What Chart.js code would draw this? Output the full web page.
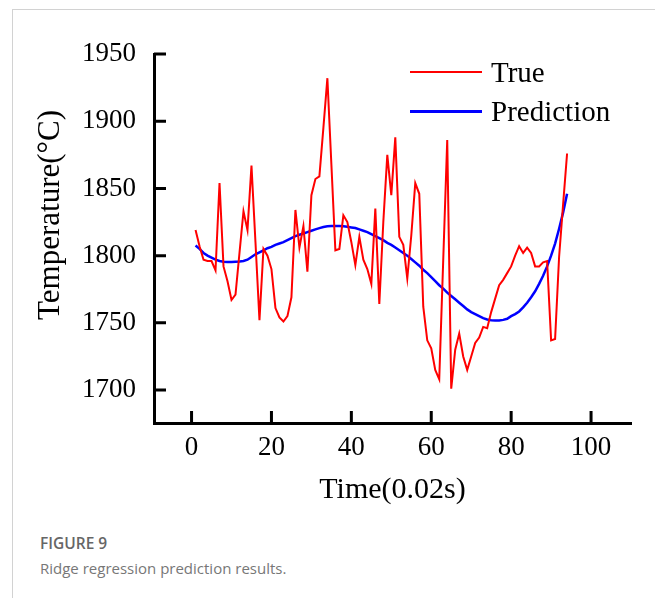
<!DOCTYPE html>
<html>
<head>
<meta charset="utf-8">
<script src="https://cdn.jsdelivr.net/npm/chart.js@4"></script>
<style>
  html, body { margin: 0; padding: 0; background: #fff; }
  body { width: 655px; height: 598px; position: relative; overflow: hidden; }
  #frame { position: absolute; left: 12px; top: 9px; width: 643px; height: 589px;
           border-top: 1px solid #d2d2d2; border-left: 1px solid #d2d2d2; box-sizing: border-box; }
  #chart { position: absolute; left: 0; top: 0; }
  .leg { position: absolute; left: 410px; height: 36px; display: flex; align-items: center;
         font-family: "Liberation Serif", serif; font-size: 29px; color: #000; }
  .leg span.ln { display: inline-block; width: 72px; margin-right: 9px; }
  #cap1 { position: absolute; left: 40px; top: 532px; font-family: "Open Sans", sans-serif;
          font-size: 15.5px; font-weight: 600; color: #666; line-height: 22px; }
  #cap2 { position: absolute; left: 40px; top: 557px; font-family: "Open Sans", sans-serif;
          font-size: 15px; color: #777; line-height: 22px; }
</style>
</head>
<body>
<div id="frame"></div>
<canvas id="chart" width="655" height="520"></canvas>
<div class="leg" style="top:54px"><span class="ln" style="height:2px;background:#ff0000"></span>True</div>
<div class="leg" style="top:93px"><span class="ln" style="height:3px;background:#0000ff"></span>Prediction</div>
<div id="cap1">FIGURE 9</div>
<div id="cap2">Ridge regression prediction results.</div>
<script>
// Daten
const timeSteps = [1, 2, 3, 4, 5, 6, 7, 8, 9, 10, 11, 12, 13, 14, 15, 16, 17, 18, 19, 20,
  21, 22, 23, 24, 25, 26, 27, 28, 29, 30, 31, 32, 33, 34, 35, 36, 37, 38, 39, 40,
  41, 42, 43, 44, 45, 46, 47, 48, 49, 50, 51, 52, 53, 54, 55, 56, 57, 58, 59, 60,
  61, 62, 63, 64, 65, 66, 67, 68, 69, 70, 71, 72, 73, 74, 75, 76, 77, 78, 79, 80,
  81, 82, 83, 84, 85, 86, 87, 88, 89, 90, 91, 92, 93, 94];

const trueTemp = [1819, 1807, 1797, 1796, 1796, 1789, 1854, 1792, 1781, 1767,
  1771, 1802, 1833, 1819, 1867, 1810, 1752, 1805, 1800, 1790,
  1761, 1754, 1751, 1755, 1769, 1834, 1806, 1822, 1788, 1845,
  1857, 1859, 1895, 1932, 1868, 1804, 1805, 1830, 1825, 1810,
  1793, 1814, 1797, 1790, 1779, 1835, 1764, 1825, 1875, 1845,
  1888, 1814, 1808, 1783, 1815, 1854, 1846, 1762, 1737, 1731,
  1715, 1708, 1797, 1886, 1701, 1730, 1742, 1725, 1715, 1725,
  1735, 1739, 1747, 1746, 1758, 1768, 1778, 1782, 1787, 1792,
  1800, 1807, 1802, 1806, 1802, 1792, 1792, 1795, 1796, 1737,
  1738, 1799, 1838, 1876];

const predTemp = [1807.5, 1805, 1802, 1800, 1798.5, 1797, 1796, 1795.5, 1795.3, 1795.3,
  1795.5, 1795.7, 1796, 1797, 1799, 1801, 1802.5, 1804, 1805.5, 1806.5,
  1808, 1809, 1810, 1811.5, 1813, 1814.5, 1815.5, 1816.5, 1817.5, 1818.5,
  1819.5, 1820.5, 1821.3, 1821.8, 1822, 1822, 1822, 1821.8, 1821.5, 1821,
  1820.5, 1819.5, 1818.5, 1817.5, 1816, 1814.5, 1813, 1811.5, 1809.5, 1808,
  1806, 1804, 1802, 1800, 1797.5, 1795, 1792.5, 1789.5, 1787, 1784,
  1781, 1778, 1775.5, 1772.5, 1770, 1767.5, 1765, 1762.5, 1760, 1758,
  1756.5, 1755, 1753.5, 1752.5, 1752, 1751.8, 1751.8, 1752.2, 1753, 1755,
  1756.5, 1758.5, 1761.5, 1765, 1769, 1773.5, 1779, 1785, 1792, 1800,
  1809, 1820, 1832, 1846];

const xTicks = [0, 20, 40, 60, 80, 100];
const yTicks = [1700, 1750, 1800, 1850, 1900, 1950];

const SERIF = '"Liberation Serif", "Times New Roman", serif';

// Ticks nach innen + y-Achsentitel
const innerTicks = {
  id: 'innerTicks',
  afterDraw(chart) {
    const { ctx, chartArea, scales } = chart;
    ctx.save();
    ctx.strokeStyle = '#000';
    ctx.lineWidth = 3;
    ctx.beginPath();
    yTicks.forEach((v) => {
      const y = scales.y.getPixelForValue(v);
      ctx.moveTo(chartArea.left, y);
      ctx.lineTo(chartArea.left + 12, y);
    });
    xTicks.forEach((v) => {
      const x = scales.x.getPixelForValue(v);
      ctx.moveTo(x, chartArea.bottom);
      ctx.lineTo(x, chartArea.bottom - 12);
    });
    ctx.stroke();

    ctx.translate(51, 215);
    ctx.rotate(-Math.PI / 2);
    ctx.fillStyle = '#000';
    ctx.font = '31px ' + SERIF;
    ctx.textAlign = 'center';
    ctx.textBaseline = 'middle';
    ctx.fillText('Temperature(\u00B0C)', 0, 0);
    ctx.restore();
  },
};

new Chart(document.getElementById('chart').getContext('2d'), {
  type: 'line',
  data: {
    datasets: [
      {
        label: 'True',
        data: timeSteps.map((t, i) => ({ x: t, y: trueTemp[i] })),
        borderColor: 'rgb(255, 0, 0)',
        borderWidth: 2,
        pointRadius: 0,
        tension: 0,
        fill: false,
      },
      {
        label: 'Prediction',
        data: timeSteps.map((t, i) => ({ x: t, y: predTemp[i] })),
        borderColor: 'rgb(0, 0, 255)',
        borderWidth: 2.5,
        pointRadius: 0,
        tension: 0,
        fill: false,
      },
    ],
  },
  options: {
    responsive: false,
    animation: false,
    layout: { padding: { left: 14, right: 24, top: 54, bottom: 2 } },
    plugins: { legend: { display: false }, tooltip: { enabled: false } },
    scales: {
      x: {
        type: 'linear',
        min: -9.4,
        max: 110,
        afterBuildTicks: (axis) => { axis.ticks = xTicks.map((v) => ({ value: v })); },
        afterFit: (axis) => { axis.height = 95; },
        grid: { display: false, drawTicks: false },
        border: { display: true, color: '#000', width: 3 },
        ticks: { color: '#000', padding: 9, maxRotation: 0, font: { family: SERIF, size: 27 },
                 callback: (v) => String(v) },
        title: {
          display: true,
          text: 'Time(0.02s)',
          color: '#000',
          padding: { top: 10, bottom: 10 },
          font: { family: SERIF, size: 30 },
        },
      },
      y: {
        min: 1675.5,
        max: 1950,
        afterBuildTicks: (axis) => { axis.ticks = yTicks.map((v) => ({ value: v })); },
        afterFit: (axis) => { axis.width = 140; },
        grid: { display: false, drawTicks: false },
        border: { display: true, color: '#000', width: 3 },
        ticks: { color: '#000', padding: 18, font: { family: SERIF, size: 27 },
                 callback: (v) => String(v) },
      },
    },
  },
  plugins: [innerTicks],
});
</script>
</body>
</html>
